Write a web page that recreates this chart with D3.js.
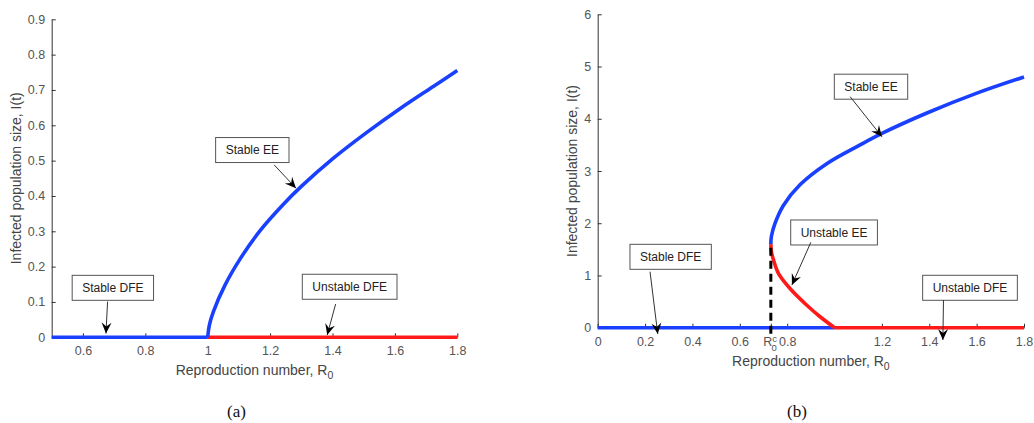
<!DOCTYPE html>
<html><head><meta charset="utf-8">
<script src="https://cdn.jsdelivr.net/npm/d3@7"></script>
<style>body{margin:0;background:#fff}svg{display:block}</style>
</head><body>
<svg id="c" width="1034" height="423"></svg>
<script>
// ---------- Panel (a) data ----------
const aStableDFE_R0 = [0.5, 1.0];
const aStableDFE_I  = [0, 0];
const aUnstableDFE_R0 = [1.0, 1.8];
const aUnstableDFE_I  = [0, 0];
const aStableEE_R0 = [1.0, 1.005, 1.018, 1.055, 1.104, 1.168, 1.242, 1.3, 1.403, 1.51, 1.616, 1.723, 1.8];
const aStableEE_I  = [0, 0.033, 0.072, 0.147, 0.222, 0.302, 0.376, 0.427, 0.507, 0.580, 0.647, 0.710, 0.755];
const aXTicks = [0.6, 0.8, 1, 1.2, 1.4, 1.6, 1.8];
const aXTickLabels = ["0.6", "0.8", "1", "1.2", "1.4", "1.6", "1.8"];
const aYTicks = [0, 0.1, 0.2, 0.3, 0.4, 0.5, 0.6, 0.7, 0.8, 0.9];
const aYTickLabels = ["0", "0.1", "0.2", "0.3", "0.4", "0.5", "0.6", "0.7", "0.8", "0.9"];
const aNotes = [
  {text: "Stable EE",    cx: 1.143, cy: 0.530, tx: 1.213, ty: 0.488, hx: 1.283, hy: 0.422},
  {text: "Stable DFE",   cx: 0.696, cy: 0.140, tx: 0.679, ty: 0.101, hx: 0.674, hy: 0.011},
  {text: "Unstable DFE", cx: 1.455, cy: 0.143, tx: 1.410, ty: 0.094, hx: 1.383, hy: 0.0065}
];

// ---------- Panel (b) data ----------
const bR0c = 0.731;
const bR0cTop = 1.6;
const bStableDFE_R0 = [0, 1.0];
const bStableDFE_I  = [0, 0];
const bUnstableDFE_R0 = [1.0, 1.8];
const bUnstableDFE_I  = [0, 0];
const bStableEE_R0 = [0.731, 0.7335, 0.749, 0.784, 0.855, 0.967, 1.108, 1.2, 1.39, 1.601, 1.8];
const bStableEE_I  = [1.6, 1.75, 2.0, 2.34, 2.74, 3.14, 3.50, 3.72, 4.11, 4.49, 4.80];
const bUnstableEE_R0 = [0.731, 0.7337, 0.742, 0.763, 0.812, 0.883, 0.939, 1.0];
const bUnstableEE_I  = [1.6, 1.45, 1.30, 1.04, 0.75, 0.43, 0.21, 0];
const bXTicks = [0, 0.2, 0.4, 0.6, 0.731, 0.8, 1.2, 1.4, 1.6, 1.8];
const bXTickLabels = ["0", "0.2", "0.4", "0.6", "R0c", "0.8", "1.2", "1.4", "1.6", "1.8"];
const bYTicks = [0, 1, 2, 3, 4, 5, 6];
const bYTickLabels = ["0", "1", "2", "3", "4", "5", "6"];
const bNotes = [
  {text: "Stable EE",    cx: 1.154, cy: 4.614, tx: 1.066, ty: 4.423, hx: 1.200, hy: 3.657},
  {text: "Unstable EE",  cx: 0.998, cy: 1.823, tx: 0.900, ty: 1.635, hx: 0.820, hy: 0.818},
  {text: "Stable DFE",   cx: 0.308, cy: 1.357, tx: 0.221, ty: 1.072, hx: 0.2535, hy: -0.12},
  {text: "Unstable DFE", cx: 1.572, cy: 0.764, tx: 1.460, ty: 0.530, hx: 1.4575, hy: -0.236}
];

const BLUE = "#1a40ff", RED = "#ff1a1a";
const FONT = "'Liberation Sans', Arial, sans-serif";
const svg = d3.select("#c");

function zipPts(xs, ys) { return xs.map((v, i) => [v, ys[i]]); }

function panel(o) {
  const g = svg.append("g");
  const x = d3.scaleLinear().domain(o.xDomain).range(o.xRange);
  const y = d3.scaleLinear().domain(o.yDomain).range(o.yRange);

  const xa = g.append("g").attr("transform", `translate(0,${o.yRange[0]})`)
    .call(d3.axisBottom(x).tickValues(o.xTicks).tickFormat((d, i) => o.xLabels[i])
      .tickSizeInner(-4).tickSizeOuter(0).tickPadding(9));
  const ya = g.append("g").attr("transform", `translate(${o.xRange[0]},0)`)
    .call(d3.axisLeft(y).tickValues(o.yTicks).tickFormat((d, i) => o.yLabels[i])
      .tickSizeInner(-4).tickSizeOuter(0).tickPadding(6.5));
  [xa, ya].forEach(a => {
    a.select(".domain").attr("stroke", "#333");
    a.selectAll(".tick line").attr("stroke", "#333");
    a.selectAll("text").attr("fill", "#555").style("font-family", FONT).style("font-size", "12.5px");
  });
  xa.selectAll(".tick text").filter(t => t === bR0c && o.special).each(function () {
    const t = d3.select(this);
    t.text(null).attr("text-anchor", "start").attr("x", -8);
    t.append("tspan").text("R");
    t.append("tspan").attr("font-size", "9.5px").attr("dy", "-4").text("c");
    t.append("tspan").attr("font-size", "9.5px").attr("dx", "-5.5").attr("dy", "9").text("0");
  });

  const xt = g.append("text").attr("x", (o.xRange[0] + o.xRange[1]) / 2).attr("y", o.yRange[0] + 38)
    .attr("text-anchor", "middle").attr("fill", "#444").style("font-family", FONT).style("font-size", "14px");
  xt.append("tspan").text("Reproduction number, R");
  xt.append("tspan").attr("font-size", "10.5px").attr("dy", "4").text("0");
  g.append("text").attr("transform", `translate(${o.yTitleX},${(o.yRange[0] + o.yRange[1]) / 2}) rotate(-90)`)
    .attr("text-anchor", "middle").attr("fill", "#444").style("font-family", FONT).style("font-size", "14px")
    .text("Infected population size, I(t)");

  const line = d3.line().x(d => x(d[0])).y(d => y(d[1])).curve(d3.curveCatmullRom.alpha(0.5));
  o.series.forEach(s => {
    g.append("path").attr("d", line(s.pts)).attr("fill", "none")
      .attr("stroke", s.color).attr("stroke-width", 3.6);
  });
  if (o.dashed) {
    g.append("line").attr("x1", x(o.dashed[0])).attr("x2", x(o.dashed[0]))
      .attr("y1", y(0) + 6).attr("y2", y(o.dashed[1]))
      .attr("stroke", "#000").attr("stroke-width", 3).attr("stroke-dasharray", "8,5");
  }

  o.notes.forEach(n => {
    const cx = x(n.cx), cy = y(n.cy);
    const t = g.append("text").attr("x", cx).attr("y", cy + 4.3).attr("text-anchor", "middle")
      .attr("fill", "#222").style("font-family", FONT).style("font-size", "12px").text(n.text);
    const w = t.node().getComputedTextLength() + 20;
    g.insert("rect", () => t.node()).attr("x", cx - w / 2).attr("y", cy - 12.5).attr("width", w).attr("height", 25)
      .attr("fill", "#fff").attr("stroke", "#555").attr("stroke-width", 1);
    const x1 = x(n.tx), y1 = y(n.ty), x2 = x(n.hx), y2 = y(n.hy);
    g.append("line").attr("x1", x1).attr("y1", y1).attr("x2", x2).attr("y2", y2)
      .attr("stroke", "#333").attr("stroke-width", 1);
    const ang = Math.atan2(y2 - y1, x2 - x1) * 180 / Math.PI;
    g.append("path").attr("d", "M0,0L-11,-5L-7,0L-11,5Z").attr("fill", "#000")
      .attr("transform", `translate(${x2},${y2}) rotate(${ang})`);
  });
}

panel({
  xDomain: [0.5, 1.8], xRange: [51.7, 457.3],
  yDomain: [0, 0.9], yRange: [337.3, 19.3],
  xTicks: aXTicks, xLabels: aXTickLabels, yTicks: aYTicks, yLabels: aYTickLabels,
  yTitleX: 21,
  series: [
    {pts: zipPts(aStableDFE_R0, aStableDFE_I), color: BLUE},
    {pts: zipPts(aUnstableDFE_R0, aUnstableDFE_I), color: RED},
    {pts: zipPts(aStableEE_R0, aStableEE_I), color: BLUE}
  ],
  notes: aNotes
});

panel({
  xDomain: [0, 1.8], xRange: [597.7, 1024],
  yDomain: [0, 6], yRange: [327.7, 14.3],
  xTicks: bXTicks, xLabels: bXTickLabels, yTicks: bYTicks, yLabels: bYTickLabels,
  yTitleX: 577, special: true,
  series: [
    {pts: zipPts(bStableDFE_R0, bStableDFE_I), color: BLUE},
    {pts: zipPts(bUnstableDFE_R0, bUnstableDFE_I), color: RED},
    {pts: zipPts(bUnstableEE_R0, bUnstableEE_I), color: RED},
    {pts: zipPts(bStableEE_R0, bStableEE_I), color: BLUE}
  ],
  dashed: [bR0c, bR0cTop],
  notes: bNotes
});

svg.append("text").attr("x", 236.5).attr("y", 417).attr("text-anchor", "middle")
  .style("font-family", "'Liberation Serif', 'Times New Roman', serif").style("font-size", "17px").attr("fill", "#111").text("(a)");
svg.append("text").attr("x", 797).attr("y", 417).attr("text-anchor", "middle")
  .style("font-family", "'Liberation Serif', 'Times New Roman', serif").style("font-size", "17px").attr("fill", "#111").text("(b)");
</script>
</body></html>
